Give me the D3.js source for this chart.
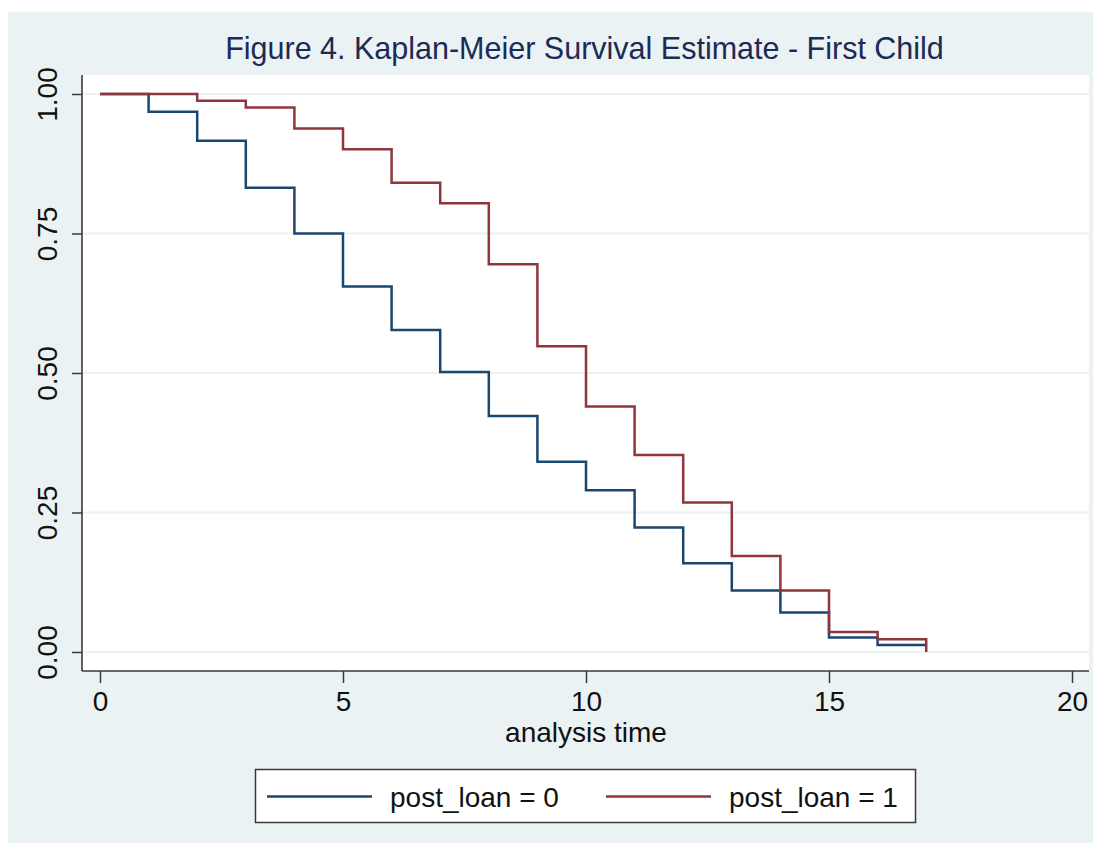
<!DOCTYPE html>
<html>
<head>
<meta charset="utf-8">
<script src="https://cdn.jsdelivr.net/npm/d3@7"></script>
<style>
  html, body { margin: 0; padding: 0; background: #ffffff; }
  svg { display: block; font-family: "Liberation Sans", Arial, Helvetica, sans-serif; }
</style>
</head>
<body>
<svg id="chart" width="1101" height="844"></svg>
<script>
// Kaplan-Meier survival estimates by group, evaluated at each analysis time
const times = [0, 1, 2, 3, 4, 5, 6, 7, 8, 9, 10, 11, 12, 13, 14, 15, 16, 17];
const survivalGroup0 = [1.000, 0.968, 0.916, 0.832, 0.750, 0.655, 0.577, 0.502, 0.423, 0.341,
                        0.290, 0.223, 0.159, 0.110, 0.071, 0.026, 0.0125, 0.0125];
const survivalGroup1 = [1.000, 1.000, 0.988, 0.976, 0.938, 0.901, 0.841, 0.804, 0.695, 0.548,
                        0.440, 0.353, 0.268, 0.172, 0.110, 0.036, 0.023, 0.000];
const seriesLabels = ["post_loan = 0", "post_loan = 1"];
const xTicks = [0, 5, 10, 15, 20];
const yTicks = [0, 0.25, 0.5, 0.75, 1];
const titleText = "Figure 4. Kaplan-Meier Survival Estimate - First Child";
const xAxisTitle = "analysis time";

const colors = ["#1a476f", "#90353b"];
const bgColor = "#eaf2f3";
const gridColor = "#eaf2f3";
const axisColor = "#3a3a3a";

const svg = d3.select("#chart");

// plot region frame
const plot = { left: 82, right: 1089, top: 75, bottom: 671 };

const x = d3.scaleLinear().domain([0, 20]).range([100, 1072]);
const y = d3.scaleLinear().domain([0, 1]).range([652, 94]);

// outer graph region
svg.append("rect")
  .attr("x", 8).attr("y", 12).attr("width", 1085).attr("height", 831)
  .attr("fill", bgColor);

// inner plot region
svg.append("rect")
  .attr("x", plot.left).attr("y", plot.top)
  .attr("width", plot.right - plot.left).attr("height", plot.bottom - plot.top)
  .attr("fill", "#ffffff");

// horizontal gridlines
svg.append("g").selectAll("line")
  .data(yTicks)
  .join("line")
  .attr("x1", plot.left).attr("x2", plot.right)
  .attr("y1", d => y(d)).attr("y2", d => y(d))
  .attr("stroke", gridColor).attr("stroke-width", 2);

// title
svg.append("text")
  .attr("x", 584.5).attr("y", 59)
  .attr("text-anchor", "middle")
  .attr("font-size", 30.5)
  .attr("fill", "#1c2a55")
  .text(titleText);

// survival step curves
const stepLine = d3.line()
  .x(d => x(d[0]))
  .y(d => y(d[1]))
  .curve(d3.curveStepAfter);

const series = [survivalGroup0, survivalGroup1].map(vals => times.map((t, i) => [t, vals[i]]));

svg.append("g").selectAll("path")
  .data(series)
  .join("path")
  .attr("d", stepLine)
  .attr("fill", "none")
  .attr("stroke", (d, i) => colors[i])
  .attr("stroke-width", 2.5)
  .attr("stroke-linejoin", "miter")
  .attr("stroke-linecap", "butt");

// y axis
const yAxis = d3.axisLeft(y)
  .tickValues(yTicks)
  .tickFormat(d3.format(".2f"))
  .tickSize(10)
  .tickPadding(0);

const gy = svg.append("g")
  .attr("transform", `translate(${plot.left},0)`)
  .call(yAxis);
gy.select(".domain").remove();
gy.selectAll(".tick line").attr("stroke", axisColor).attr("stroke-width", 1.5);
gy.selectAll(".tick text")
  .attr("x", null).attr("dy", null)
  .attr("transform", `translate(${57 - plot.left},0) rotate(-90)`)
  .attr("text-anchor", "middle")
  .attr("font-size", 28)
  .attr("font-family", "Liberation Sans, Arial, sans-serif")
  .attr("fill", "#111");

svg.append("line")
  .attr("x1", plot.left).attr("x2", plot.left)
  .attr("y1", plot.top).attr("y2", plot.bottom)
  .attr("stroke", axisColor).attr("stroke-width", 1.6);

// x axis
const xAxis = d3.axisBottom(x)
  .tickValues(xTicks)
  .tickFormat(d3.format("d"))
  .tickSize(12)
  .tickPadding(0);

const gx = svg.append("g")
  .attr("transform", `translate(0,${plot.bottom})`)
  .call(xAxis);
gx.select(".domain").remove();
gx.selectAll(".tick line").attr("stroke", axisColor).attr("stroke-width", 1.5);
gx.selectAll(".tick text")
  .attr("y", 40).attr("dy", null)
  .attr("font-size", 28)
  .attr("font-family", "Liberation Sans, Arial, sans-serif")
  .attr("fill", "#111");

svg.append("line")
  .attr("x1", plot.left).attr("x2", plot.right)
  .attr("y1", plot.bottom).attr("y2", plot.bottom)
  .attr("stroke", axisColor).attr("stroke-width", 1.6);

// x axis title
svg.append("text")
  .attr("x", 586).attr("y", 742)
  .attr("text-anchor", "middle")
  .attr("font-size", 28)
  .attr("fill", "#111")
  .text(xAxisTitle);

// legend
const legend = svg.append("g");
legend.append("rect")
  .attr("x", 255.5).attr("y", 769.5).attr("width", 660).attr("height", 53)
  .attr("fill", "#ffffff").attr("stroke", axisColor).attr("stroke-width", 1.5);

const legendItems = [
  { x1: 267, x2: 372, tx: 390 },
  { x1: 606, x2: 711, tx: 729 }
];
legendItems.forEach((it, i) => {
  legend.append("line")
    .attr("x1", it.x1).attr("x2", it.x2)
    .attr("y1", 796.5).attr("y2", 796.5)
    .attr("stroke", colors[i]).attr("stroke-width", 2.5);
  legend.append("text")
    .attr("x", it.tx).attr("y", 806.5)
    .attr("font-size", 28)
    .attr("fill", "#111")
    .text(seriesLabels[i]);
});
</script>
</body>
</html>
